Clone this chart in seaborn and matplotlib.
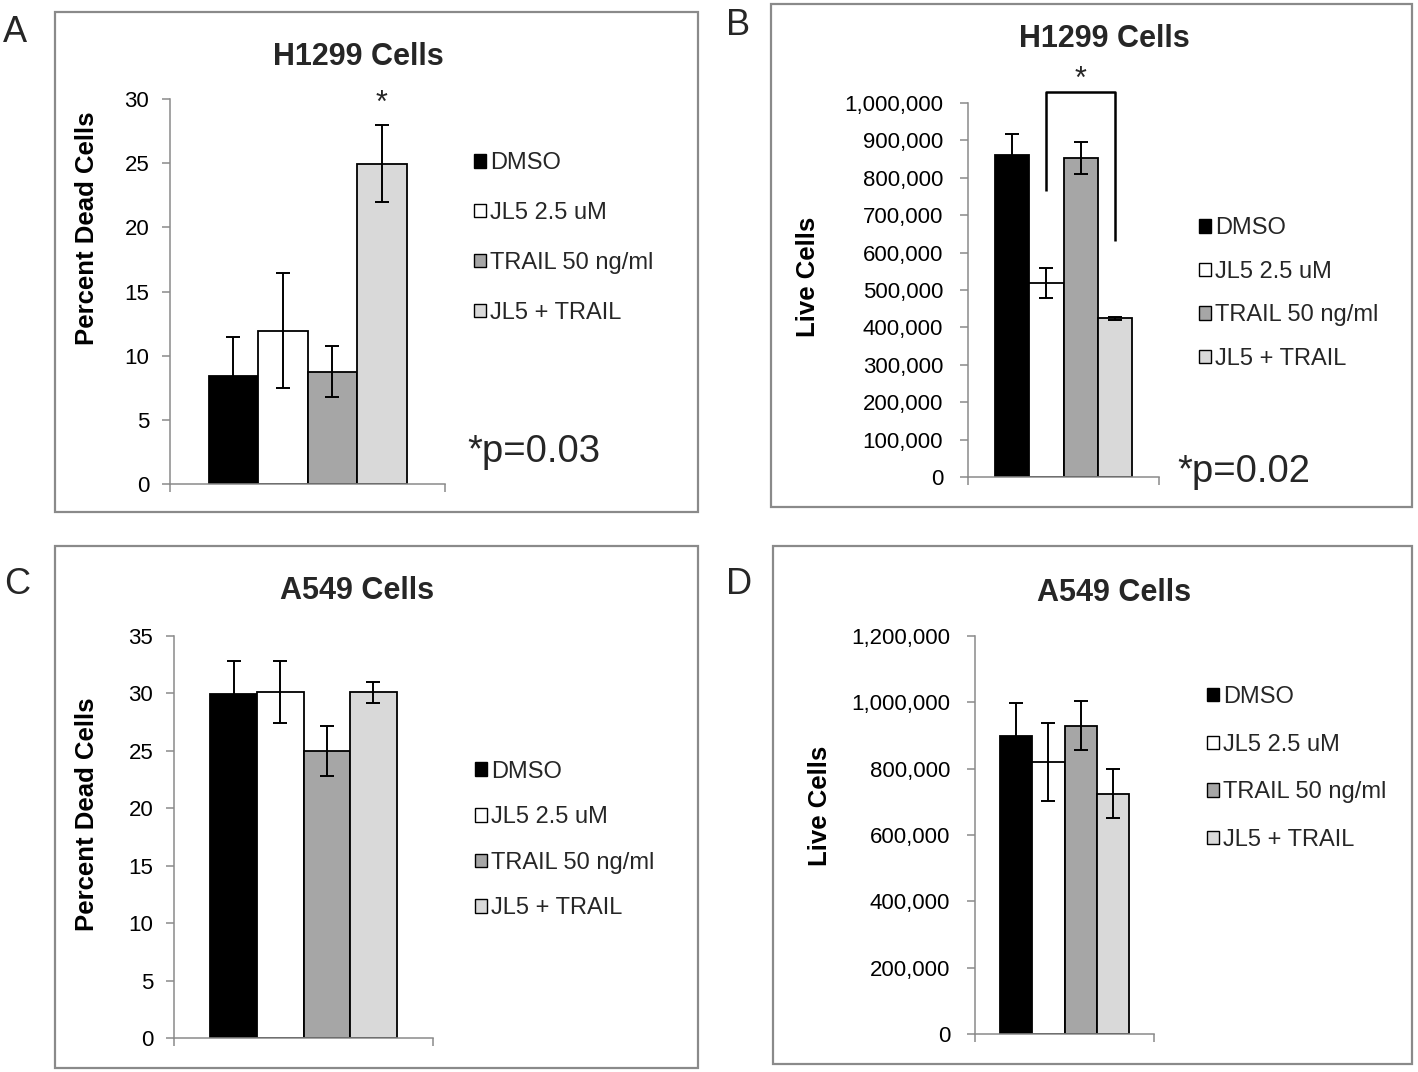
import matplotlib
matplotlib.use("Agg")
import matplotlib.pyplot as plt
import pandas as pd
import seaborn as sns
from matplotlib.patches import Patch, Rectangle
from matplotlib.ticker import FuncFormatter

# canvas in pixels (dpi 100)
W, H = 1418, 1072

treatments = ["DMSO", "JL5 2.5 uM", "TRAIL 50 ng/ml", "JL5 + TRAIL"]
bar_colors = ["#000000", "#ffffff", "#a6a6a6", "#d9d9d9"]

# A: H1299 percent dead cells
h1299_dead = [8.45, 11.95, 8.75, 24.95]
h1299_dead_err = [3.0, 4.5, 2.0, 3.0]
# B: H1299 live cells
h1299_live = [860000, 519000, 853000, 425000]
h1299_live_err = [58000, 40000, 42000, 4000]
# C: A549 percent dead cells
a549_dead = [29.95, 30.1, 25.0, 30.1]
a549_dead_err = [2.9, 2.7, 2.15, 0.9]
# D: A549 live cells
a549_live = [897000, 821000, 930000, 725000]
a549_live_err = [100000, 117000, 75000, 74000]

# significance marks
star_a_level = 29.0
bracket_b_levels = [765000, 1029000, 1029000, 632000]
star_b_level = 1040000

GRAY = "#8a8a8a"

sns.set_theme(style="white")
plt.rcParams["font.family"] = ["Liberation Sans", "DejaVu Sans"]


def fx(px):
    return px / W


def fy(py):
    return 1 - py / H


def comma_fmt(v, _):
    return f"{v:,.0f}"


def draw_panel(fig, p):
    l, t, r, b = p["axes_px"]
    ax = fig.add_axes([fx(l), fy(b), (r - l) / W, (b - t) / H])
    df = pd.DataFrame({"group": ["all"] * 4, "treatment": treatments, "value": p["values"]})
    sns.barplot(
        data=df,
        x="group",
        y="value",
        hue="treatment",
        hue_order=treatments,
        palette=dict(zip(treatments, bar_colors)),
        saturation=1,
        width=0.72,
        edgecolor="black",
        linewidth=1.3,
        errorbar=None,
        legend=False,
        ax=ax,
    )
    bars = sorted(ax.patches, key=lambda patch: patch.get_x())
    centers = [bar.get_x() + bar.get_width() / 2 for bar in bars]
    ax.errorbar(centers, p["values"], yerr=p["errs"], fmt="none", ecolor="black",
                elinewidth=1.4, capsize=5, capthick=1.4, zorder=4)

    ax.set_xlim(-0.5, 0.5)
    ax.set_ylim(*p["ylim"])
    ax.set_yticks(p["yticks"])
    if p["comma"]:
        ax.yaxis.set_major_formatter(FuncFormatter(comma_fmt))
    ax.set_xticks([-0.5, 0.5])
    ax.set_xticklabels([])
    ax.set_xlabel("")
    for side in ["top", "right"]:
        ax.spines[side].set_visible(False)
    for side in ["left", "bottom"]:
        ax.spines[side].set_color(GRAY)
        ax.spines[side].set_linewidth(1.1)
    ax.tick_params(axis="y", left=True, direction="out", length=6, width=1.1,
                   color=GRAY, labelsize=16, pad=p["pad"], labelcolor="black")
    ax.tick_params(axis="x", bottom=True, direction="out", length=6, width=1.1, color=GRAY)

    ax.set_ylabel(p["ylabel"], fontsize=18.5, fontweight="bold", color="black")
    ax.yaxis.label.set_verticalalignment("center")
    ax.yaxis.set_label_coords(fx(p["ylabel_xy"][0]), fy(p["ylabel_xy"][1]),
                              transform=fig.transFigure)

    handles = [Patch(facecolor=c, edgecolor="black", linewidth=1.0) for c in bar_colors]
    ax.legend(handles, treatments, loc="center left",
              bbox_to_anchor=(fx(p["legend_xy"][0]), fy(p["legend_xy"][1])),
              bbox_transform=fig.transFigure, frameon=False, fontsize=17,
              handlelength=0.5, handleheight=0.5, handletextpad=0.18,
              labelspacing=p["spacing"], borderpad=0, borderaxespad=0)

    fig.text(fx(p["title_xy"][0]), fy(p["title_xy"][1]), p["title"], ha="center",
             va="baseline", fontsize=22, fontweight="bold")
    fig.text(fx(p["letter_xy"][0]), fy(p["letter_xy"][1]), p["letter"], ha="left",
             va="baseline", fontsize=26)
    if p.get("ptext"):
        fig.text(fx(p["ptext_xy"][0]), fy(p["ptext_xy"][1]), p["ptext"], ha="left",
                 va="baseline", fontsize=27.5)

    bl, bt, br, bb = p["box_px"]
    fig.add_artist(Rectangle((fx(bl), fy(bb)), (br - bl) / W, (bb - bt) / H,
                             transform=fig.transFigure, fill=False,
                             edgecolor=GRAY, linewidth=1.6))
    return ax, centers


fig = plt.figure(figsize=(W / 100, H / 100), dpi=100)

panels = [
    dict(letter="A", letter_xy=(3, 42), box_px=(55, 12, 698, 512),
         axes_px=(170, 99, 445, 484), title="H1299 Cells", title_xy=(358, 65),
         values=h1299_dead, errs=h1299_dead_err, ylim=(0, 30), yticks=range(0, 31, 5),
         comma=False, pad=9, ylabel="Percent Dead Cells", ylabel_xy=(87.5, 228.5),
         legend_xy=(474, 238), spacing=1.18, ptext="*p=0.03", ptext_xy=(467, 462)),
    dict(letter="B", letter_xy=(726, 35), box_px=(771, 4, 1412, 507),
         axes_px=(968, 103, 1159, 477), title="H1299 Cells", title_xy=(1104, 47),
         values=h1299_live, errs=h1299_live_err, ylim=(0, 1000000),
         yticks=range(0, 1000001, 100000), comma=True, pad=12, ylabel="Live Cells",
         ylabel_xy=(808, 277), legend_xy=(1199, 293.5), spacing=0.91,
         ptext="*p=0.02", ptext_xy=(1177, 482)),
    dict(letter="C", letter_xy=(4, 594), box_px=(55, 546, 698, 1068),
         axes_px=(174, 636, 433, 1038), title="A549 Cells", title_xy=(357, 599),
         values=a549_dead, errs=a549_dead_err, ylim=(0, 35), yticks=range(0, 36, 5),
         comma=False, pad=9, ylabel="Percent Dead Cells", ylabel_xy=(87, 814),
         legend_xy=(475, 840), spacing=1.0),
    dict(letter="D", letter_xy=(726, 594), box_px=(773, 546, 1412, 1064),
         axes_px=(975, 636, 1154, 1034), title="A549 Cells", title_xy=(1114, 601),
         values=a549_live, errs=a549_live_err, ylim=(0, 1200000),
         yticks=range(0, 1200001, 200000), comma=True, pad=12, ylabel="Live Cells",
         ylabel_xy=(820, 806), legend_xy=(1207, 768.5), spacing=1.09),
]

axes = []
for spec in panels:
    axes.append(draw_panel(fig, spec))

# A: star over JL5 + TRAIL
ax_a, centers_a = axes[0]
ax_a.text(centers_a[3], star_a_level, "*", ha="center", va="baseline", fontsize=22,
          clip_on=False)

# B: bracket between JL5 and JL5 + TRAIL
ax_b, centers_b = axes[1]
x1, x2 = centers_b[1], centers_b[3]
ax_b.plot([x1, x1, x2, x2], bracket_b_levels, color="black", linewidth=1.8,
          clip_on=False, solid_capstyle="butt")
ax_b.text((x1 + x2) / 2, star_b_level, "*", ha="center", va="baseline", fontsize=22,
          clip_on=False)

fig.savefig("out.png", dpi=100)
